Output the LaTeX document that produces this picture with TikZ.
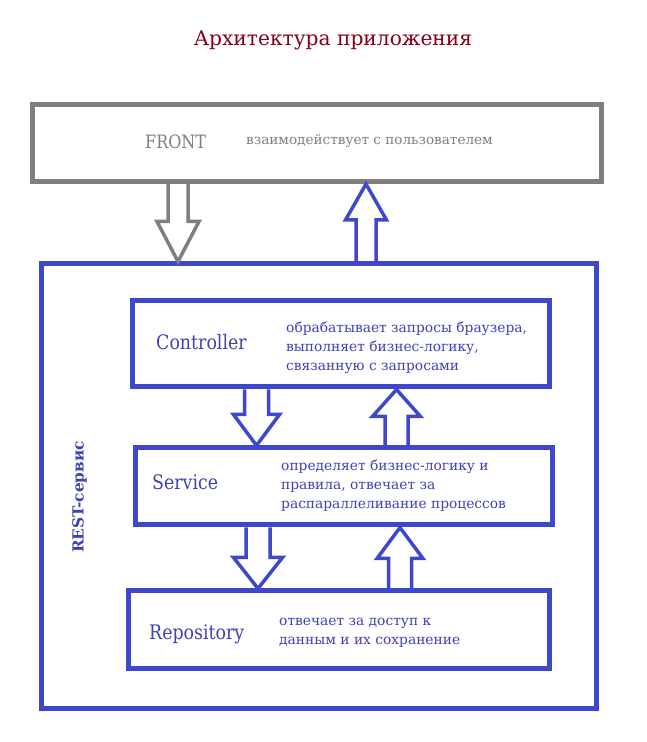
\documentclass[tikz,border=0pt]{standalone}
\usepackage{fontspec}
\setmainfont{DejaVu Serif}
\newfontfamily\condfont[FakeStretch=0.87]{DejaVu Serif}
\usetikzlibrary{calc}
\definecolor{bl}{HTML}{3F48CC}
\definecolor{blt}{HTML}{4040BB}
\definecolor{gr}{HTML}{7F7F7F}
\definecolor{ttl}{HTML}{880015}
\newcommand\downblk[7]{%
  \draw[#1] let \p1=(#3.south), \p2=(#4.north) in
   ({#2pt-#5pt},\y1) -- ({#2pt-#5pt},{\y2+#7pt}) -- ({#2pt-#6pt},{\y2+#7pt}) -- (#2pt,\y2)
   -- ({#2pt+#6pt},{\y2+#7pt}) -- ({#2pt+#5pt},{\y2+#7pt}) -- ({#2pt+#5pt},\y1);}
\newcommand\upblk[7]{%
  \draw[#1] let \p1=(#3.north), \p2=(#4.south) in
   ({#2pt-#5pt},\y1) -- ({#2pt-#5pt},{\y2-#7pt}) -- ({#2pt-#6pt},{\y2-#7pt}) -- (#2pt,\y2)
   -- ({#2pt+#6pt},{\y2-#7pt}) -- ({#2pt+#5pt},{\y2-#7pt}) -- ({#2pt+#5pt},\y1);}
\begin{document}
\begin{tikzpicture}[x=1pt,y=1pt,
  boxb/.style={draw=bl, line width=5pt, inner sep=0pt},
  boxg/.style={draw=gr, line width=5pt, inner sep=0pt},
  arrb/.style={draw=bl, line width=3.5pt, line join=miter},
  arrg/.style={draw=gr, line width=3.5pt, line join=miter},
  lbl/.style={text=blt, font=\condfont\fontsize{20}{22}\selectfont, anchor=mid west, inner sep=0pt},
  desc/.style={text=blt, font=\fontsize{13.8}{19}\selectfont, anchor=base west, align=left, inner sep=0pt}]
\useasboundingbox (0,0) rectangle (647,742);
\fill[white] (0,0) rectangle (647,742);

\node[text=ttl, font=\fontsize{20.2}{24}\selectfont] (title) at (333,702) {Архитектура приложения};

\node[boxg, minimum width=568.5pt, minimum height=76.5pt] (front) at (316.75,598.75) {};
\node[text=gr, font=\condfont\fontsize{18.4}{20}\selectfont, anchor=mid west, inner sep=0pt] (fronttxt) at (145,596.5) {FRONT};
\node[text=gr, font=\fontsize{13.6}{16}\selectfont, anchor=mid west, inner sep=0pt] (frontdesc) at (246,600) {взаимодействует с пользователем};

\node[boxb, minimum width=554.5pt, minimum height=445pt] (rest) at (318.75,255.5) {};
\node[text=blt, font=\bfseries\fontsize{15.3}{18}\selectfont, rotate=90] (resttxt) at (79.5,245) {REST-сервис};

\node[boxb, minimum width=417pt, minimum height=86pt] (ctrl) at (340.5,398) {};
\node[lbl] (ctrltxt) at (156,395) {Controller};
\node[desc] (ctrldesc) at (286,371) {обрабатывает запросы браузера,\\выполняет бизнес-логику,\\связанную с запросами};

\node[boxb, minimum width=417pt, minimum height=77pt] (serv) at (343.5,255.5) {};
\node[lbl] (servtxt) at (152,255) {Service};
\node[desc] (servdesc) at (281,233.5) {определяет бизнес-логику и\\правила, отвечает за\\распараллеливание процессов};

\node[boxb, minimum width=420.5pt, minimum height=78pt] (repo) at (338.75,112) {};
\node[lbl] (repotxt) at (149,105) {Repository};
\node[desc] (repodesc) at (279,97) {отвечает за доступ к\\данным и их сохранение};

\downblk{arrg}{178}{front}{rest}{10}{21}{40}
\upblk{arrb}{366}{rest}{front}{10}{20.5}{36}
\downblk{arrb}{256.5}{ctrl}{serv}{12}{23}{31}
\upblk{arrb}{396.5}{serv}{ctrl}{11.5}{24}{27}
\downblk{arrb}{258}{serv}{repo}{12}{24.5}{31}
\upblk{arrb}{400}{repo}{serv}{11.5}{23}{31}
\end{tikzpicture}
\end{document}
